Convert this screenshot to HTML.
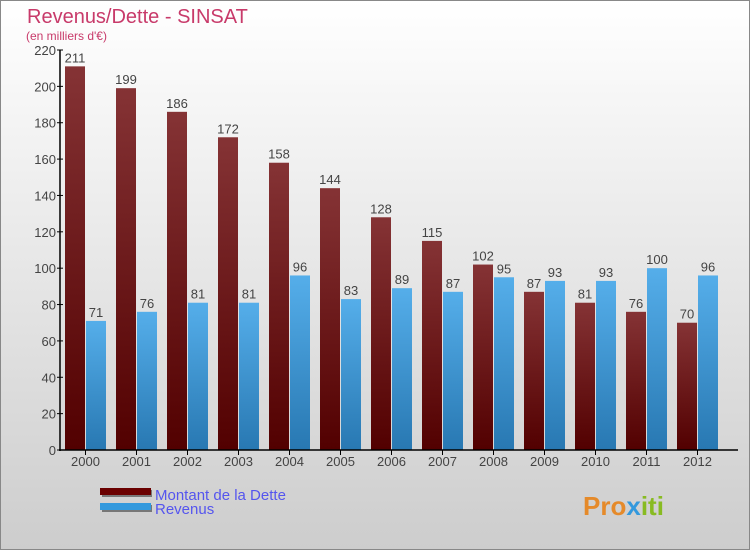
<!DOCTYPE html>
<html><head><meta charset="utf-8"><style>
body{margin:0;}
svg text{font-family:"Liberation Sans",sans-serif;}
</style></head><body>
<svg width="750" height="550" viewBox="0 0 750 550" xmlns="http://www.w3.org/2000/svg">
<defs>
<linearGradient id="bg" x1="0" y1="0" x2="0" y2="1"><stop offset="0" stop-color="#ffffff"/><stop offset="1" stop-color="#cdcdcd"/></linearGradient>
<linearGradient id="gd" x1="0" y1="0" x2="0" y2="1"><stop offset="0" stop-color="#853335"/><stop offset="1" stop-color="#520000"/></linearGradient>
<linearGradient id="gr" x1="0" y1="0" x2="0" y2="1"><stop offset="0" stop-color="#55aeea"/><stop offset="1" stop-color="#2878b2"/></linearGradient>
</defs>
<rect x="0.5" y="0.5" width="749" height="549" fill="url(#bg)" stroke="#888"/>
<text x="27" y="23" font-size="20" fill="#c83a6a">Revenus/Dette - SINSAT</text>
<text x="26" y="40" font-size="12" fill="#c83a6a">(en milliers d'€)</text>
<g id="plot"></g>
<g>
<rect x="102" y="490" width="50" height="7" fill="#777"/><rect x="100" y="488" width="51" height="7" fill="#6a0000"/>
<text x="155" y="500" font-size="15" fill="#5555ee">Montant de la Dette</text>
<rect x="102" y="505" width="50" height="7" fill="#777"/><rect x="100" y="503" width="51" height="7" fill="#3399dd"/>
<text x="155" y="514" font-size="15" fill="#5555ee">Revenus</text>
</g>
<text x="583" y="515" font-size="26" font-weight="bold" fill="#e58a2a">Pro<tspan fill="#3399dd">x</tspan><tspan fill="#88bb22">iti</tspan></text>
</svg>
<script>
const years=["2000","2001","2002","2003","2004","2005","2006","2007","2008","2009","2010","2011","2012"];
const dette=[211,199,186,172,158,144,128,115,102,87,81,76,70];
const revenus=[71,76,81,81,96,83,89,87,95,93,93,100,96];
const ticks=[0,20,40,60,80,100,120,140,160,180,200,220];
const NS="http://www.w3.org/2000/svg";
const g=document.getElementById('plot');
const y=v=>450-v*400/220;
const x0=i=>65+i*51;
function el(t,a,p){const e=document.createElementNS(NS,t);for(const k in a)e.setAttribute(k,a[k]);(p||g).appendChild(e);return e;}
ticks.forEach(t=>{
 const l=el('line',{x1:57,x2:63,y1:y(t),y2:y(t),stroke:'#000'});
 
 
 const tx=el('text',{x:56,y:y(t)+5,'font-size':13,fill:'#444','text-anchor':'end'});tx.textContent=t;
 
 
});
years.forEach((yr,i)=>{
 const b1=el('rect',{x:x0(i),y:y(dette[i]),width:20,height:450-y(dette[i]),fill:'url(#gd)'});
 
 
 const b2=el('rect',{x:x0(i)+21,y:y(revenus[i]),width:20,height:450-y(revenus[i]),fill:'url(#gr)'});
 
 
 const t1=el('text',{x:x0(i)+10,y:y(dette[i])-4,'font-size':13,fill:'#444','text-anchor':'middle'});t1.textContent=dette[i];
 
 
 const t2=el('text',{x:x0(i)+31,y:y(revenus[i])-4,'font-size':13,fill:'#444','text-anchor':'middle'});t2.textContent=revenus[i];
 
 
 const tk=el('line',{x1:x0(i)+20.5,x2:x0(i)+20.5,y1:450,y2:455,stroke:'#000'});
 
 
 const xl=el('text',{x:x0(i)+20.5,y:466,'font-size':13,fill:'#444','text-anchor':'middle'});xl.textContent=yr;
 
 
});
const ya=el('line',{x1:60,x2:60,y1:50,y2:451,stroke:'#000','stroke-width':1.5});


const xa=el('line',{x1:59,x2:738,y1:450,y2:450,stroke:'#000','stroke-width':1.5});


</script>
</body></html>
